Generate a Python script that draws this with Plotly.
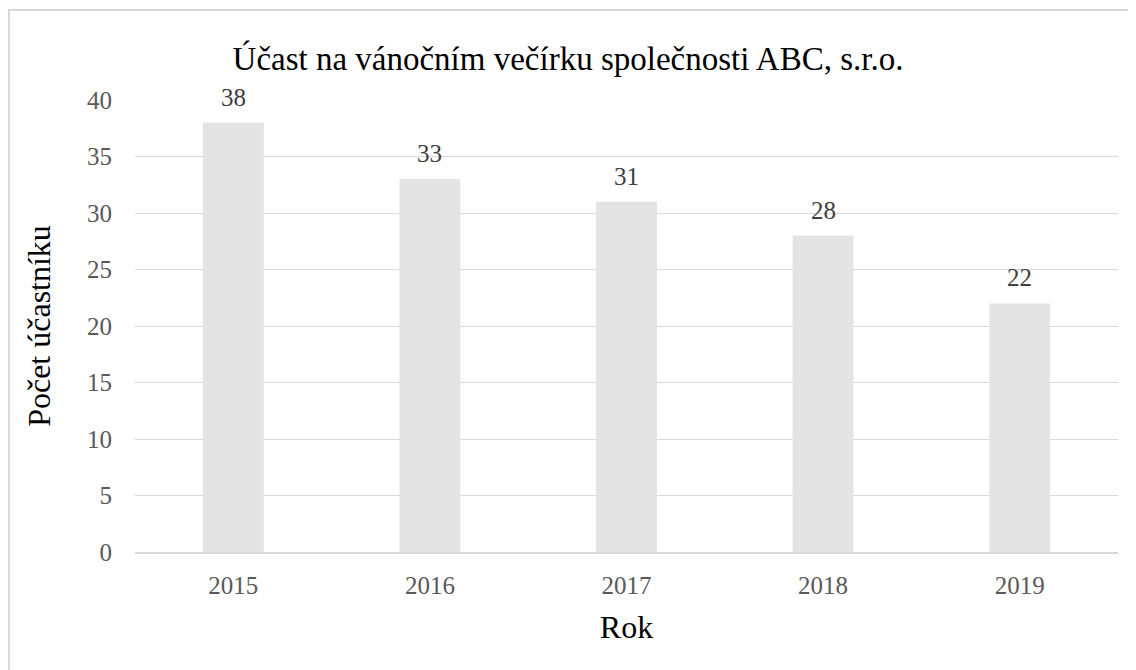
import plotly.graph_objects as go

years = ["2015", "2016", "2017", "2018", "2019"]
counts = [38, 33, 31, 28, 22]
y_ticks = [0, 5, 10, 15, 20, 25, 30, 35, 40]

title_text = "Účast na vánočním večírku společnosti ABC, s.r.o."
x_title = "Rok"
y_title = "Počet účastníku"

FONT = "Liberation Serif, Times New Roman, serif"
W, H = 1136, 670
# page is offset by 8px body margin
ML, MR, MT, MB = 127, 26, 92, 126
pw = W - ML - MR
ph = H - MT - MB

fig = go.Figure()
fig.add_trace(go.Bar(
    x=years, y=counts,
    marker=dict(color="#e4e4e4", line=dict(width=0)),
    width=0.31,
    hoverinfo="x+y",
))

# category axis: annotations use the category index
for i, v in enumerate(counts):
    fig.add_annotation(x=i, y=v, xref="x", yref="y", text=str(v), showarrow=False,
                       yanchor="bottom", yshift=10,
                       font=dict(family=FONT, size=25, color="#404040"))

# outer border (chart area frame)
fig.add_shape(type="rect", xref="paper", yref="paper",
              x0=(1 - ML) / pw, x1=(W + 20 - ML) / pw,
              y0=-(H + 20 - (MT + ph)) / ph, y1=(MT + ph - 2) / ph,
              line=dict(color="#d9d9d9", width=2), fillcolor="rgba(0,0,0,0)",
              layer="below")

fig.update_layout(
    width=W, height=H,
    margin=dict(l=ML, r=MR, t=MT, b=MB, pad=0),
    paper_bgcolor="white", plot_bgcolor="white",
    showlegend=False,
    title=dict(text=title_text, xref="paper", xanchor="center",
               y=1 - 50 / H, yanchor="middle", yref="container",
               font=dict(family=FONT, size=33, color="#000000")),
    font=dict(family=FONT),
    bargap=0.69,
)
fig.layout.title.x = (W / 2 - 8 - ML) / pw
fig.update_xaxes(
    type="category", categoryorder="array", categoryarray=years,
    range=[-0.5, len(years) - 0.5],
    showgrid=False, showline=True, linecolor="#d9d9d9", linewidth=1.5,
    ticks="", tickfont=dict(family=FONT, size=25, color="#595959"),
    ticklabelstandoff=10,
    title=dict(text=x_title, font=dict(family=FONT, size=32, color="#000000"), standoff=18),
)
fig.update_yaxes(
    range=[0, 40], tickvals=y_ticks,
    showgrid=True, gridcolor="#d9d9d9", gridwidth=1.2,
    zeroline=False, showline=False, ticks="",
    tickfont=dict(family=FONT, size=25, color="#595959"),
    ticklabelstandoff=22,
    title=dict(text=y_title, font=dict(family=FONT, size=32, color="#000000"), standoff=26),
)

fig.write_html("out.html")
